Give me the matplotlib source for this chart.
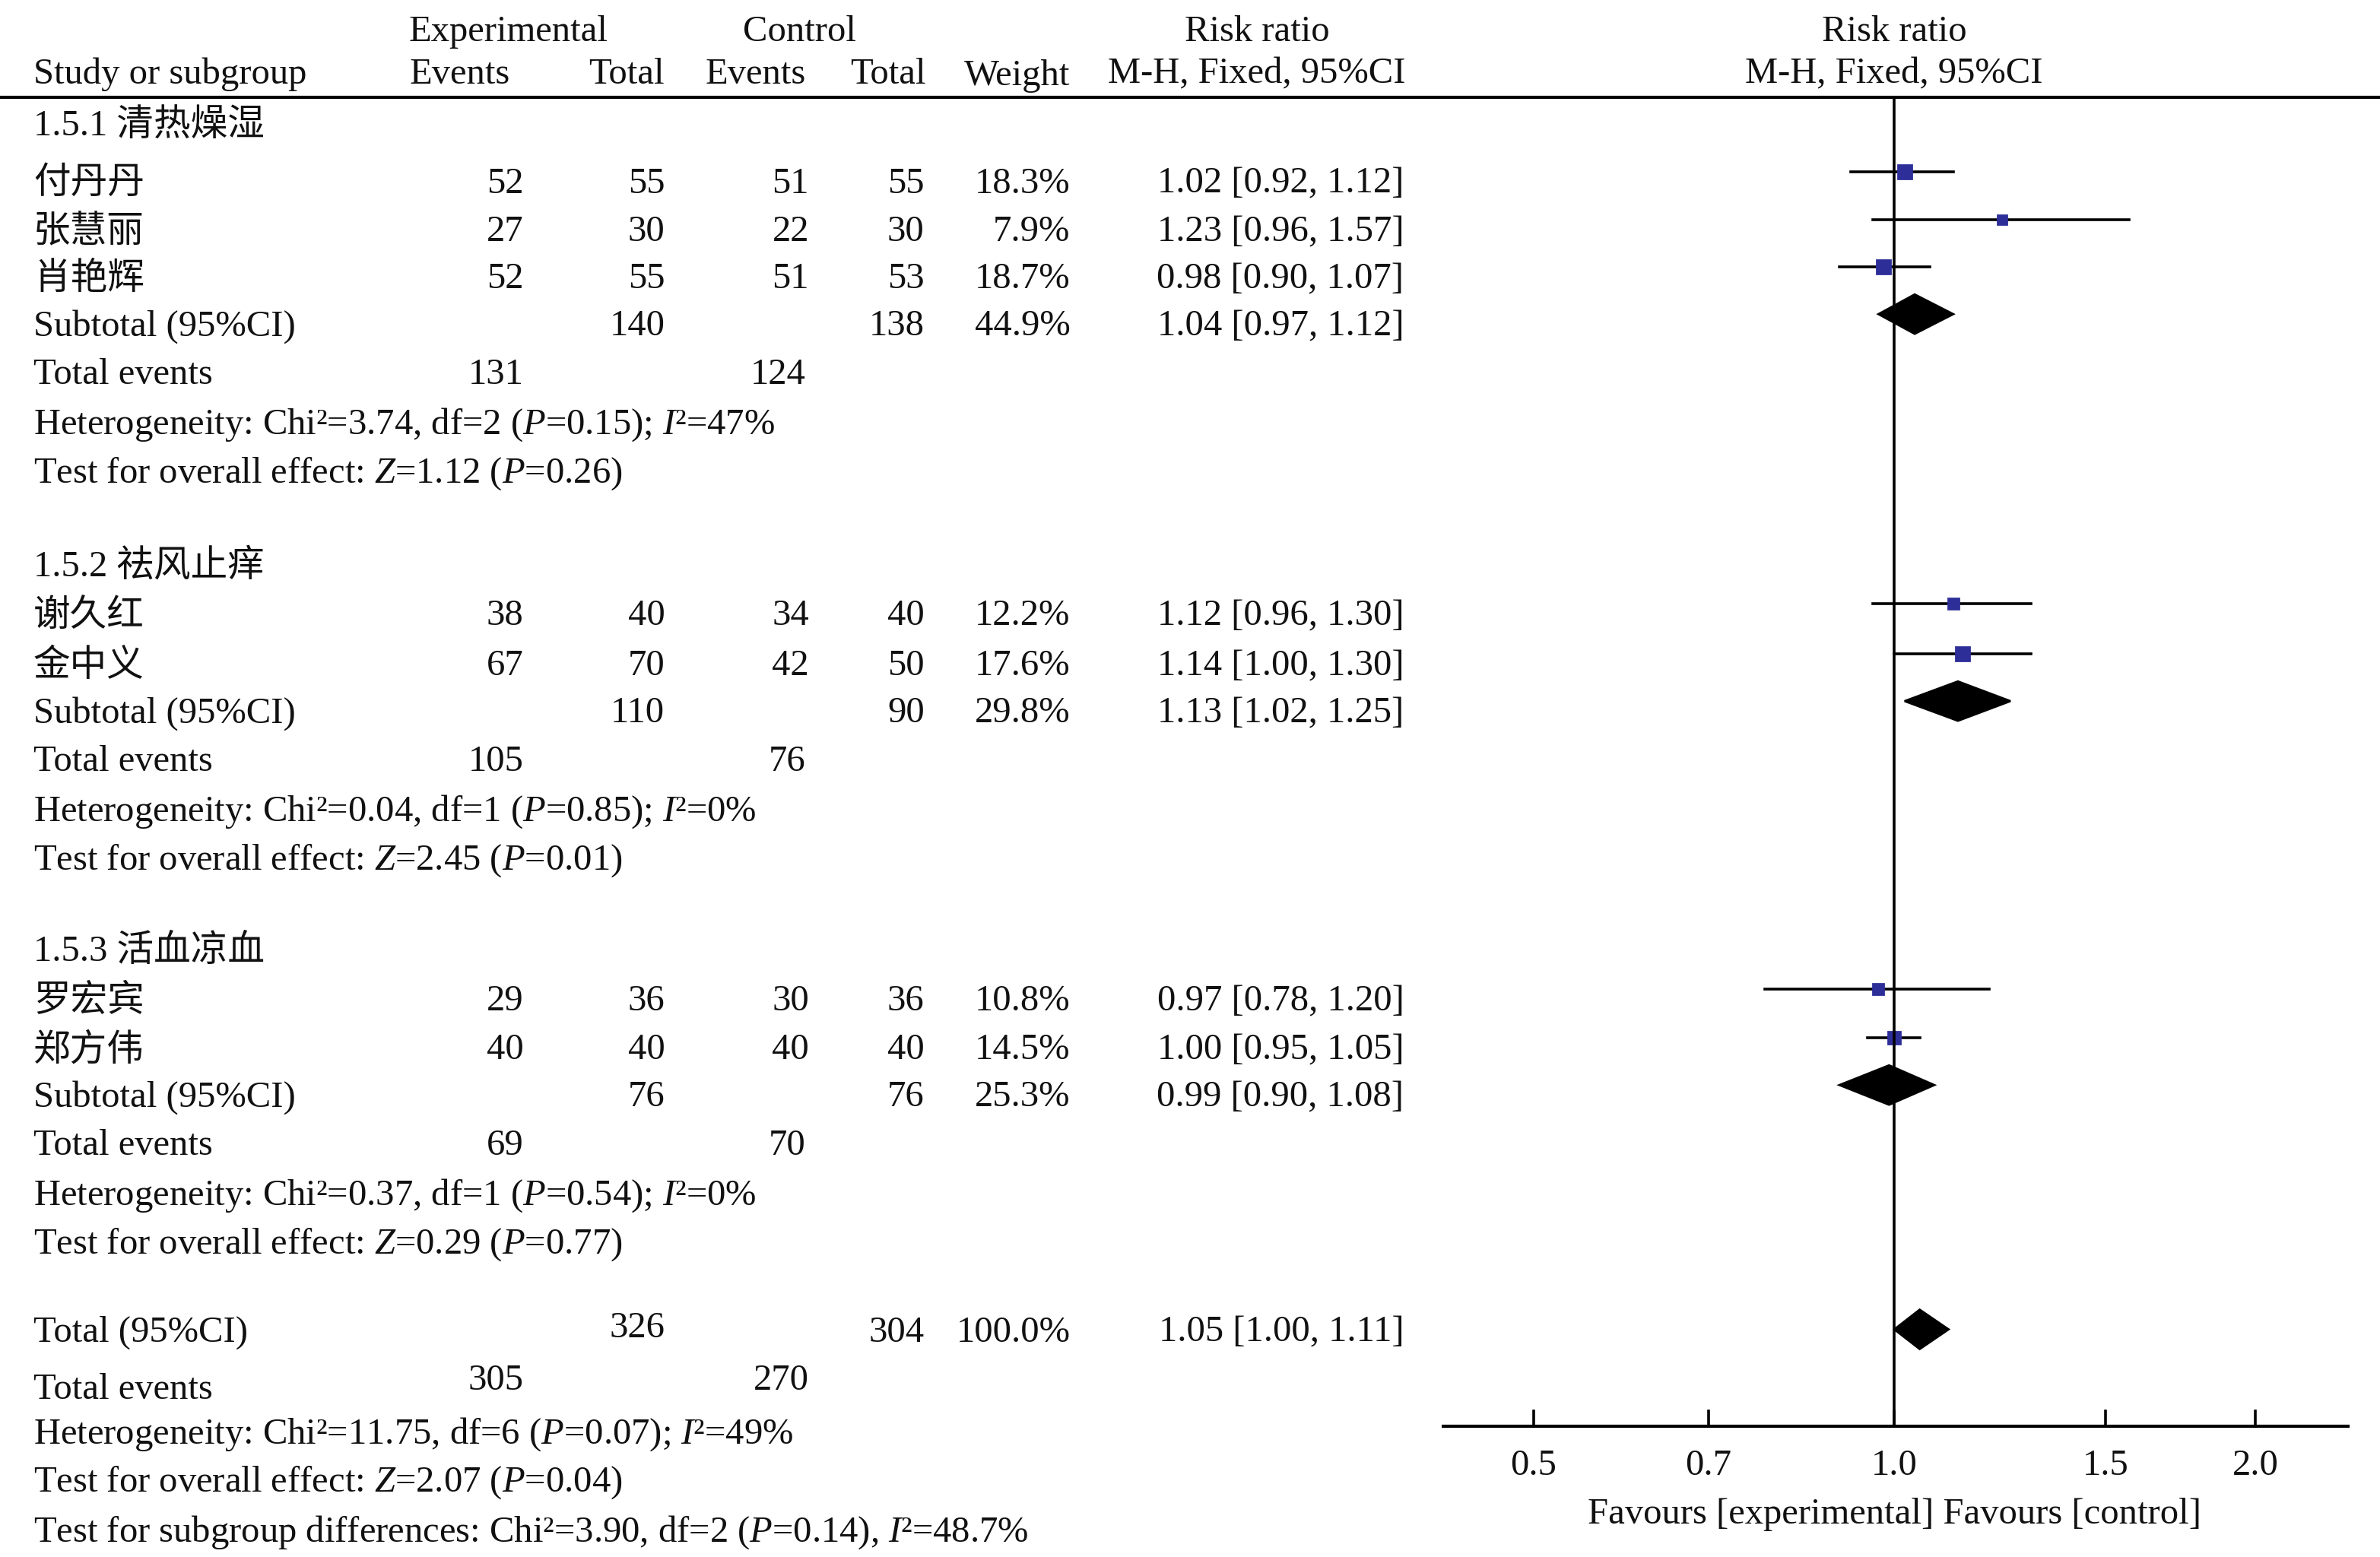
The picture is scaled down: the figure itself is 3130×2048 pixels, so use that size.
import numpy as np
import matplotlib
matplotlib.use("Agg")
import matplotlib.pyplot as plt

plt.rcParams['font.family'] = ['Liberation Serif', 'Noto Sans CJK SC']
plt.rcParams['mathtext.fontset'] = 'custom'
plt.rcParams['mathtext.rm'] = 'Liberation Serif'
plt.rcParams['mathtext.it'] = 'Liberation Serif:italic'

groups = ["1.5.1 清热燥湿", "1.5.2 祛风止痒", "1.5.3 活血凉血"]
studies = [["付丹丹", "张慧丽", "肖艳辉"], ["谢久红", "金中义"], ["罗宏宾", "郑方伟"]]
exp_events = [[52, 27, 52], [38, 67], [29, 40]]
exp_total = [[55, 30, 55], [40, 70], [36, 40]]
ctl_events = [[51, 22, 51], [34, 42], [30, 40]]
ctl_total = [[55, 30, 53], [40, 50], [36, 40]]
weights = [[18.3, 7.9, 18.7], [12.2, 17.6], [10.8, 14.5]]
rr = [[1.02, 1.23, 0.98], [1.12, 1.14], [0.97, 1.00]]
lo = [[0.92, 0.96, 0.90], [0.96, 1.00], [0.78, 0.95]]
hi = [[1.12, 1.57, 1.07], [1.30, 1.30], [1.20, 1.05]]
sub_exp_total = [140, 110, 76]
sub_ctl_total = [138, 90, 76]
sub_weight = [44.9, 29.8, 25.3]
sub_rr = [1.04, 1.13, 0.99]
sub_lo = [0.97, 1.02, 0.90]
sub_hi = [1.12, 1.25, 1.08]
sub_exp_ev = [131, 105, 69]
sub_ctl_ev = [124, 76, 70]
het = [r"Heterogeneity: Chi²=3.74, df=2 ($\it{P}$=0.15); $\it{I}$²=47%",
       r"Heterogeneity: Chi²=0.04, df=1 ($\it{P}$=0.85); $\it{I}$²=0%",
       r"Heterogeneity: Chi²=0.37, df=1 ($\it{P}$=0.54); $\it{I}$²=0%"]
tests = [r"Test for overall effect: $\it{Z}$=1.12 ($\it{P}$=0.26)",
         r"Test for overall effect: $\it{Z}$=2.45 ($\it{P}$=0.01)",
         r"Test for overall effect: $\it{Z}$=0.29 ($\it{P}$=0.77)"]
tot_exp_total, tot_ctl_total, tot_weight = 326, 304, 100.0
tot_rr, tot_lo, tot_hi = 1.05, 1.00, 1.11
tot_exp_ev, tot_ctl_ev = 305, 270
tot_het = r"Heterogeneity: Chi²=11.75, df=6 ($\it{P}$=0.07); $\it{I}$²=49%"
tot_test = r"Test for overall effect: $\it{Z}$=2.07 ($\it{P}$=0.04)"
sub_diff = r"Test for subgroup differences: Chi²=3.90, df=2 ($\it{P}$=0.14), $\it{I}$²=48.7%"
ticks = [0.5, 0.7, 1.0, 1.5, 2.0]
tick_labels = ["0.5", "0.7", "1.0", "1.5", "2.0"]

W, H = 1568, 1026
fig = plt.figure(figsize=(15.65, 10.24), dpi=200)
ax = fig.add_axes([0, 0, 1, 1])
ax.set_xlim(0, W); ax.set_ylim(H, 0); ax.axis('off')
fx0, fx1 = 950, 1548
fa = fig.add_axes([fx0 / W, 0, (fx1 - fx0) / W, 1])
fa.set_xscale('log')
lnl = (fx0 - 1248) / 343.0; lnr = (fx1 - 1248) / 343.0
fa.set_xlim(np.exp(lnl), np.exp(lnr)); fa.set_ylim(H, 0); fa.axis('off')
fa.patch.set_alpha(0)

fs = 17.5
def t(x, y, s, ha='left'):
    ax.text(x, y, s, ha=ha, va='center', fontsize=fs, color='#111111')

t(335, 21, "Experimental", 'center'); t(527, 21, "Control", 'center')
t(828, 21, "Risk ratio", 'center'); t(1248, 21, "Risk ratio", 'center')
t(22, 49, "Study or subgroup"); t(303, 49, "Events", 'center'); t(413, 49, "Total", 'center')
t(498, 49, "Events", 'center'); t(585, 49, "Total", 'center'); t(670, 50, "Weight", 'center')
t(828, 49, "M-H, Fixed, 95%CI", 'center'); t(1248, 49, "M-H, Fixed, 95%CI", 'center')
ax.plot([0, W], [64, 64], color='black', lw=1.5)

group_y = [83, 373, 627]
row_ys = [[121, 153, 184], [406, 439], [660, 692]]
blue = '#2e2e99'

def ci_str(r, l, h):
    return f"{r:.2f} [{l:.2f}, {h:.2f}]"

def diamond(y, r, l, h):
    fa.fill([l, r, h, r], [y, y - 13, y, y + 13], color='black')

for g in range(3):
    t(22, group_y[g], groups[g])
    for i, y in enumerate(row_ys[g]):
        t(22, y, studies[g][i])
        t(345, y, str(exp_events[g][i]), 'right'); t(438, y, str(exp_total[g][i]), 'right')
        t(533, y, str(ctl_events[g][i]), 'right'); t(609, y, str(ctl_total[g][i]), 'right')
        t(705, y, f"{weights[g][i]:.1f}%", 'right')
        t(925, y, ci_str(rr[g][i], lo[g][i], hi[g][i]), 'right')
        fa.plot([lo[g][i], hi[g][i]], [y - 8, y - 8], color='black', lw=1.3)
        sz = 2.5 + weights[g][i] * 0.22
        fa.plot([rr[g][i]], [y - 8], marker='s', ms=sz, color=blue, mec=blue)
    ys = row_ys[g][-1] + 31
    t(22, ys, "Subtotal (95%CI)")
    t(438, ys, str(sub_exp_total[g]), 'right'); t(609, ys, str(sub_ctl_total[g]), 'right')
    t(705, ys, f"{sub_weight[g]:.1f}%", 'right')
    t(925, ys, ci_str(sub_rr[g], sub_lo[g], sub_hi[g]), 'right')
    diamond(ys - 8, sub_rr[g], sub_lo[g], sub_hi[g])
    ye = ys + 32
    t(22, ye, "Total events"); t(345, ye, str(sub_exp_ev[g]), 'right'); t(531, ye, str(sub_ctl_ev[g]), 'right')
    t(22, ye + 33, het[g]); t(22, ye + 65, tests[g])

yt = 878
t(22, yt, "Total (95%CI)"); t(438, yt - 3, str(tot_exp_total), 'right'); t(609, yt, str(tot_ctl_total), 'right')
t(705, yt, f"{tot_weight:.1f}%", 'right'); t(925, yt, ci_str(tot_rr, tot_lo, tot_hi), 'right')
diamond(yt - 2, tot_rr, tot_lo, tot_hi)
t(22, 916, "Total events"); t(345, 910, str(tot_exp_ev), 'right'); t(533, 910, str(tot_ctl_ev), 'right')
t(22, 945, tot_het); t(22, 977, tot_test); t(22, 1010, sub_diff)

fa.plot([1.0, 1.0], [65, 940], color='black', lw=1.3)
fa.plot([np.exp(lnl), np.exp(lnr)], [940, 940], color='black', lw=1.5)
for tk, tl in zip(ticks, tick_labels):
    fa.plot([tk, tk], [930, 940], color='black', lw=1.3)
    fa.text(tk, 966, tl, ha='center', va='center', fontsize=fs, color='#111111')
fa.text(1.0, 998, "Favours [experimental] Favours [control]", ha='center', va='center',
        fontsize=fs, color='#111111')

fig.savefig("out.png", dpi=200, facecolor='white')
